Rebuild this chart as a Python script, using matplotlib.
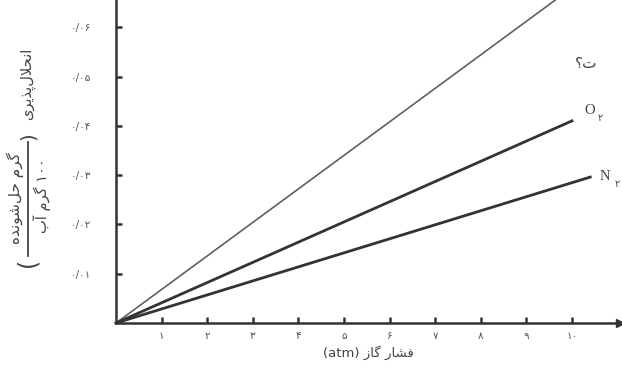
import matplotlib
matplotlib.use("Agg")
import matplotlib.pyplot as plt

# data
pressure_ticks = [1, 2, 3, 4, 5, 6, 7, 8, 9, 10]
pressure_labels = ["۱", "۲", "۳", "۴", "۵", "۶", "۷", "۸", "۹", "۱۰"]
sol_ticks = [0.01, 0.02, 0.03, 0.04, 0.05, 0.06]
sol_labels = ["۰/۰۱", "۰/۰۲", "۰/۰۳", "۰/۰۴", "۰/۰۵", "۰/۰۶"]

top_x = [0, 10]
top_y = [0, 0.068]
o2_x = [0, 10.0]
o2_y = [0, 0.041]
n2_x = [0, 10.4]
n2_y = [0, 0.0296]

# simple persian shaping (matplotlib has no arabic text layout)
# isolated, final, initial, medial
FORMS = {
    "ا": ("\uFE8D", "\uFE8E", None, None),
    "آ": ("\uFE81", "\uFE82", None, None),
    "پ": ("\uFB56", "\uFB57", "\uFB58", "\uFB59"),
    "ت": ("\uFE95", "\uFE96", "\uFE97", "\uFE98"),
    "ح": ("\uFEA1", "\uFEA2", "\uFEA3", "\uFEA4"),
    "د": ("\uFEA9", "\uFEAA", None, None),
    "ذ": ("\uFEAB", "\uFEAC", None, None),
    "ر": ("\uFEAD", "\uFEAE", None, None),
    "ز": ("\uFEAF", "\uFEB0", None, None),
    "ش": ("\uFEB5", "\uFEB6", "\uFEB7", "\uFEB8"),
    "ف": ("\uFED1", "\uFED2", "\uFED3", "\uFED4"),
    "گ": ("\uFB92", "\uFB93", "\uFB94", "\uFB95"),
    "ل": ("\uFEDD", "\uFEDE", "\uFEDF", "\uFEE0"),
    "م": ("\uFEE1", "\uFEE2", "\uFEE3", "\uFEE4"),
    "ن": ("\uFEE5", "\uFEE6", "\uFEE7", "\uFEE8"),
    "ه": ("\uFEE9", "\uFEEA", "\uFEEB", "\uFEEC"),
    "و": ("\uFEED", "\uFEEE", None, None),
    "ی": ("\uFBFC", "\uFBFD", "\uFBFE", "\uFBFF"),
    "ب": ("\uFE8F", "\uFE90", "\uFE91", "\uFE92"),
}


def rtl(s):
    out = []
    i = 0
    while i < len(s):
        c = s[i]
        if c == "\u200c":
            i += 1
            continue
        if c not in FORMS:
            out.append(c)
            i += 1
            continue
        prev = s[i - 1] if i > 0 else None
        nxt = s[i + 1] if i + 1 < len(s) else None
        joins_prev = prev in FORMS and FORMS[prev][2] is not None
        if c == "ل" and nxt == "ا":
            out.append("\uFEFC" if joins_prev else "\uFEFB")
            i += 2
            continue
        joins_next = FORMS[c][2] is not None and nxt in FORMS
        if joins_prev and joins_next:
            out.append(FORMS[c][3])
        elif joins_prev:
            out.append(FORMS[c][1])
        elif joins_next:
            out.append(FORMS[c][2])
        else:
            out.append(FORMS[c][0])
        i += 1
    return "".join(reversed(out))


W, H = 622, 370
fig = plt.figure(figsize=(W / 100, H / 100), dpi=100)

x0, y0 = 116, 323          # origin pixel
px_x, px_y = 45.6, 4930    # pixels per unit
ax = fig.add_axes([x0 / W, (H - y0) / H, (620 - x0) / W, y0 / H])
ax.set_xlim(0, (620 - x0) / px_x)
ax.set_ylim(0, y0 / px_y)

ax.plot(top_x, top_y, color="#606060", lw=1.2)
ax.plot(o2_x, o2_y, color="#333333", lw=2.0, clip_on=False)
ax.plot(n2_x, n2_y, color="#333333", lw=2.0, clip_on=False)

for s in ["top", "right"]:
    ax.spines[s].set_visible(False)
for s in ["left", "bottom"]:
    ax.spines[s].set_color("#333333")
    ax.spines[s].set_linewidth(1.8)
ax.plot(1, 0, ">", color="#333333", ms=6, transform=ax.transAxes, clip_on=False)

gray = "#555555"
ax.set_xticks(pressure_ticks)
ax.set_xticklabels(pressure_labels, fontsize=7.5, color=gray, family="DejaVu Sans")
ax.set_yticks(sol_ticks)
ax.set_yticklabels(sol_labels, fontsize=7.5, color=gray, family="DejaVu Sans")
ax.tick_params(direction="in", length=4, width=1.8, color="#333333")
ax.tick_params(axis="x", pad=6)
ax.tick_params(axis="y", pad=18)

# axis titles
ax.set_xlabel("(atm) " + rtl("فشار گاز"), fontsize=9.5, color="#444444",
              family="DejaVu Sans", labelpad=3)


def ftext(px, py, s, family="DejaVu Sans", **kw):
    fig.text(px / W, 1 - py / H, s, ha="center", va="center",
             family=family, color="#444444", **kw)


ftext(27, 84, rtl("انحلال‌پذیری"), rotation=90, fontsize=10.5)
ftext(28, 136, ")", rotation=90, fontsize=14)
ftext(15, 198, rtl("گرم حل‌شونده"), rotation=90, fontsize=11)
ftext(42, 196, rtl("گرم آب") + " ۱۰۰", rotation=90, fontsize=10.5)
fig.add_artist(plt.Line2D([28 / W, 28 / W], [1 - 142 / H, 1 - 256 / H],
                          color="#444444", lw=1.3))
ftext(28, 262, "(", rotation=90, fontsize=17)

# gas labels
ftext(590, 111, "O", fontsize=10.5, family="Liberation Serif")
ftext(600, 118, "۲", fontsize=7)
ftext(605, 176, "N", fontsize=10.5, family="Liberation Serif")
ftext(617, 184, "۲", fontsize=7)
ftext(586, 64, "؟" + "\uFE95", fontsize=11)

fig.savefig("out.png", dpi=100, facecolor="white")
